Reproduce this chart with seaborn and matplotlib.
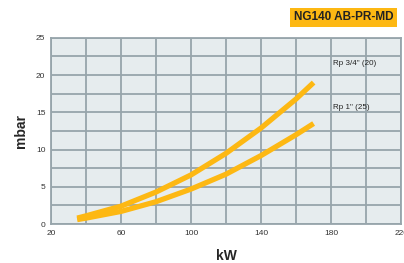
import matplotlib
matplotlib.use("Agg")
import matplotlib.pyplot as plt
import seaborn as sns
import pandas as pd
from matplotlib.ticker import MultipleLocator, FixedLocator

kw = [35, 40, 60, 80, 100, 120, 140, 160, 170]
rp34 = [0.8, 1.1, 2.4, 4.3, 6.6, 9.5, 12.9, 16.8, 19.0]
rp1 = [0.6, 0.8, 1.7, 3.0, 4.7, 6.7, 9.2, 12.0, 13.5]
series_labels = ['Rp 3/4" (20)', 'Rp 1" (25)']
x_ticks = [20, 60, 100, 140, 180, 220]
y_ticks = [0, 5, 10, 15, 20, 25]
title = "NG140 AB-PR-MD"

df = pd.concat([
    pd.DataFrame({"kW": kw, "mbar": rp34, "s": series_labels[0]}),
    pd.DataFrame({"kW": kw, "mbar": rp1, "s": series_labels[1]}),
])

sns.set_style("white")
plt.rcParams['font.family'] = ['Liberation Sans', 'DejaVu Sans']

fig = plt.figure(figsize=(4.04, 2.63), dpi=100)
ax = fig.add_axes([0.126, 0.148, 0.867, 0.708])
ax.set_facecolor("#E6ECEE")

grid_c = "#97A5AB"
ax.set_xlim(20, 220)
ax.set_ylim(0, 25)
ax.xaxis.set_major_locator(FixedLocator(x_ticks))
ax.xaxis.set_minor_locator(MultipleLocator(20))
ax.yaxis.set_major_locator(FixedLocator(y_ticks))
ax.yaxis.set_minor_locator(MultipleLocator(2.5))
ax.grid(True, which="both", color=grid_c, linewidth=1.3)
ax.set_axisbelow(True)
for sp in ax.spines.values():
    sp.set_color(grid_c)
    sp.set_linewidth(1.3)

sns.lineplot(data=df, x="kW", y="mbar", hue="s", palette=["#FDB813", "#FDB813"],
             linewidth=3.8, legend=False, ax=ax, solid_capstyle="butt")

ax.tick_params(axis="both", which="major", labelsize=6, colors="#333333",
               length=3, width=0.8, pad=1, color=grid_c)
ax.tick_params(axis="both", which="minor", length=0)
ax.set_xlabel("kW", fontsize=10, fontweight="bold", labelpad=9)
ax.set_ylabel("mbar", fontsize=10, fontweight="bold", labelpad=6)

ax.text(181, 21.6, series_labels[0], fontsize=5.8, va="center", ha="left", color="#222222")
ax.text(181, 15.7, series_labels[1], fontsize=5.8, va="center", ha="left", color="#222222")

fig.text(0.85, 0.935, title, fontsize=8.5, fontweight="bold", ha="center", va="center",
         color="#222222",
         bbox=dict(boxstyle="square,pad=0.3", facecolor="#FDB813", edgecolor="none"))

fig.savefig("out.png", dpi=100)
